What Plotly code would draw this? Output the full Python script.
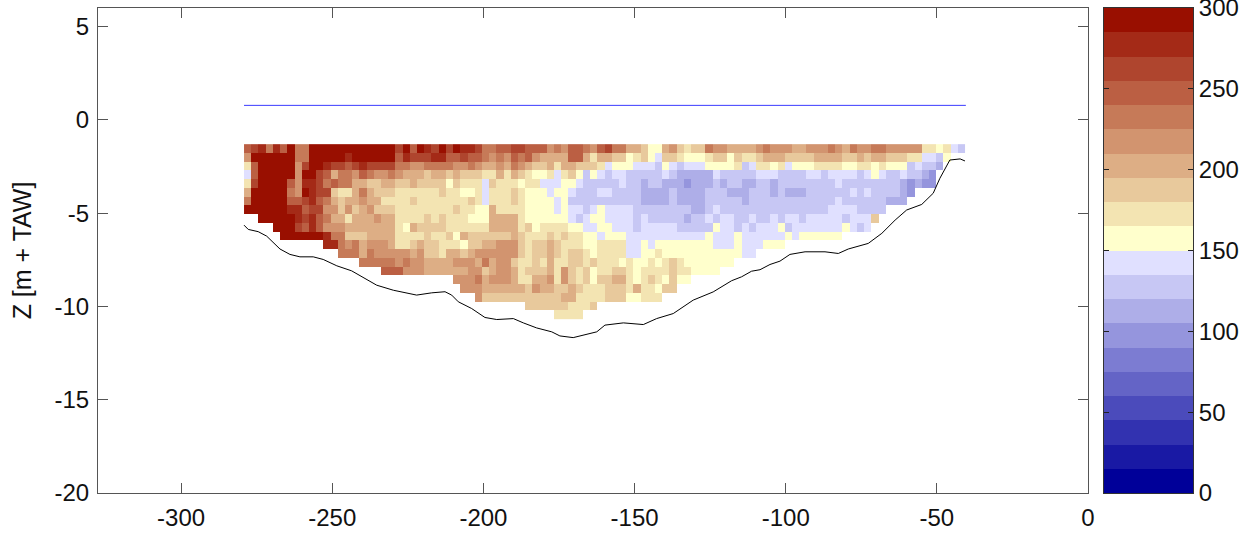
import plotly.graph_objects as go

# cell classes: 0-9 = warm bands 150..300, a-d = blue bands 150..90, '.' = no data
row_codes = [
    "6785869559" "9999999999" "9796987979" "8875566776" "6645466546" "7553320034" "2122544333" "3454443344" "4543544554" "44441101ab",
    "4999999559" "9999899999" "9687778866" "7665454656" "4333366313" "3220120a22" "1000122021" "1233322223" "3332232332" "2211aab0..",
    "1699999479" "9877678777" "7554455554" "4543343543" "2231332221" "a000aaab0a" "baaa00001b" "a1101a0001" "1110011010" "00babbc...",
    "a699999499" "7635546544" "5433323323" "2221131321" "001a120b0a" "baabbbbbab" "cccccabbbb" "baaabbbbaa" "baaaaba0ab" "babbcd....",
    "1799996488" "7565533223" "3223222202" "111a211101" "1aaa00abbb" "bbabbcbbcc" "cdcccbcbbc" "cbbcbbbbbb" "bbabbbbbbb" "bcdcdd....",
    "3999995498" "7721135322" "2111111211" "001a111210" "00a00abbba" "abbbbccccb" "ccccbbbccc" "bbbcbcccbb" "bbbbababbb" "bcd.......",
    "5999996678" "6532334331" "1112111111" "121a111210" "000a0bbbbb" "bbbbbccccb" "ccccbbbbbc" "bbbbbbbbbb" "bbabbbbbbc" "cc........",
    "9999998867" "7442423422" "2111111112" "1100311110" "000a0aaba0" "aaaabbbbbb" "bbccbabbbb" "bbbbbbbbbb" "baaaabbbb." "..........",
    "..99999878" "6533133343" "3111121211" "1000333310" "00000aba00" "aaaababbbb" "bcbbabaabb" "abbabaabaa" "aaabaaa2..",
    "....999768" "6444333333" "3103222211" "1111333312" "0111100aa0" "0aaabaaaaa" "bbbbb0aaba" "baaa0baaaa" "aaa0aba...",
    ".....99999" "9855222333" "3111121120" "3222222321" "112121100a" "000aaaaaaa" "aaaa0aaa0a" "aaaaa0a000" "000.......",
    ".........." ".885453444" "3112322111" "0223344421" "2232111001" "111aa0a000" "00000aaa0a" "aa000.....",
    ".........." "...5553544" "4443422133" "2344444421" "2232122101" "111aa00100" "000000000a" "a.........",
    ".........." "......5555" "5454433334" "4435344211" "2131122121" "1101001012" "10000000..",
    ".........." ".........6" "6644433333" "3442344312" "2231421201" "1221011112" "110000....",
    ".........." ".........." ".........4" "4453444311" "3341421202" "2331012102" "00........",
    ".........." ".........." ".........." "4443333332" "4332232111" "2221311022",
    ".........." ".........." ".........." "..42222222" "2222331111" "22200111..",
    ".........." ".........." ".........." ".........2" "222221112.",
    ".........." ".........." ".........." ".........." "...1111...",
]
band_of_code = {"0": 10, "1": 11, "2": 12, "3": 13, "4": 14, "5": 15, "6": 16, "7": 17, "8": 18, "9": 19,
                "a": 9, "b": 8, "c": 7, "d": 6}
band_colors = ["#000099", "#1919A4", "#3232B0", "#4B4BBB", "#6464C6", "#7C7CD2", "#9595DD", "#AEAEE8", "#C7C7F4", "#E0E0FF",
               "#FFFFCC", "#F3E4B2", "#E8C99C", "#DDAE85", "#D2946F", "#C67A58", "#BB5F43", "#AF452E", "#A42A17", "#990F00"]
x_start = -278.0
x_step = 2.385
z_start = -1.535
z_step = -0.47
level_x = [-279.2, -40.4]
level_z = [0.78, 0.78]
bed_x = [-279.2, -277.8, -274.5, -271.7, -267.3, -264, -260.7, -256.3, -253, -248.5, -243.6, -239.7, -235.3, -229.8,
         -222.1, -217.1, -212.7, -210.5, -208.3, -203.9, -199.5, -195.6, -190.1, -186.8, -182.4, -177.4, -174.7, -170.3,
         -162.5, -159.8, -153.7, -147.1, -142.7, -137.2, -130.6, -124, -117.9, -114.6, -111.3, -108.5, -105.2, -101.9,
         -98.6, -93.6, -87, -82.6, -79.3, -72.7, -68.2, -63.8, -60, -55, -51.2, -49, -45.7, -42.3, -40.7]
bed_z = [-5.64, -5.87, -5.99, -6.23, -6.92, -7.21, -7.34, -7.34, -7.48, -7.82, -8.09, -8.46, -8.86, -9.13,
         -9.39, -9.27, -9.21, -9.39, -9.75, -10.11, -10.59, -10.7, -10.65, -10.88, -11.15, -11.36, -11.58, -11.67,
         -11.36, -11.0, -10.88, -10.97, -10.65, -10.38, -9.66, -9.22, -8.62, -8.41, -8.11, -8.03, -7.75, -7.57,
         -7.21, -7.07, -7.07, -7.16, -6.92, -6.62, -6.08, -5.37, -4.83, -4.53, -3.93, -3.13, -2.15, -2.09, -2.2]
x_ticks = [-300, -250, -200, -150, -100, -50, 0]
x_tick_labels = ["-300", "-250", "-200", "-150", "-100", "-50", "0"]
z_ticks = [5, 0, -5, -10, -15, -20]
z_tick_labels = ["5", "0", "-5", "-10", "-15", "-20"]
bar_ticks = [0, 50, 100, 150, 200, 250, 300]

W, H = 1256, 533
n = len(band_colors)
scale = []
for i, c in enumerate(band_colors):
    scale += [[i / n, c], [(i + 1) / n, c]]

z = []
for codes in row_codes:
    codes = codes.ljust(100, ".")
    z.append([None if ch == "." else (band_of_code[ch] + 0.5) * 15 for ch in codes])

fig = go.Figure()
fig.add_trace(go.Heatmap(z=z, x0=x_start, dx=x_step, y0=z_start, dy=z_step, zmin=0, zmax=300,
                         colorscale=scale, showscale=False, hoverinfo="skip", xaxis="x", yaxis="y"))
fig.add_trace(go.Scatter(x=level_x, y=level_z, mode="lines", line=dict(color="#3A3AFF", width=1),
                         hoverinfo="skip", xaxis="x", yaxis="y", showlegend=False))
fig.add_trace(go.Scatter(x=bed_x, y=bed_z, mode="lines", line=dict(color="#000000", width=1),
                         hoverinfo="skip", xaxis="x", yaxis="y", showlegend=False))
fig.add_trace(go.Heatmap(z=[[(i + 0.5) * 15] for i in range(n)], x=[0], y=[(i + 0.5) * 15 for i in range(n)],
                         zmin=0, zmax=300, colorscale=scale, showscale=False, hoverinfo="skip",
                         xaxis="x2", yaxis="y2"))

FONT = dict(family="Liberation Sans, Arial, sans-serif", size=24, color="#111111")
TITLE_FONT = dict(family="Liberation Sans, Arial, sans-serif", size=25, color="#111111")
common = dict(showgrid=False, zeroline=False, showline=True, linecolor="#555555", linewidth=1, automargin=False,
              mirror="ticks", ticks="inside", ticklen=10, tickcolor="#555555", tickfont=FONT,
              ticklabeloverflow="allow", ticklabelstandoff=3)
# plot area in page pixels
L, R, T, B = 98, 1088, 8, 493
BL, BR = 1104, 1193
AW = BR - L
fig.update_layout(
    width=W, height=H, margin=dict(l=L, r=W - BR, t=T, b=H - B), paper_bgcolor="#ffffff", plot_bgcolor="#ffffff",
    showlegend=False, font=FONT,
    xaxis=dict(domain=[0, (R - L) / AW], range=[-327.5, 0], tickvals=x_ticks, ticktext=x_tick_labels,
               anchor="y", **common),
    yaxis=dict(domain=[0, 1], range=[-20, 6], tickvals=z_ticks, ticktext=z_tick_labels, anchor="x",
               title=dict(text="Z [m + TAW]", font=TITLE_FONT), **common),
    xaxis2=dict(domain=[(BL - L) / AW, 1], range=[-0.5, 0.5], showticklabels=False, ticks="", automargin=False,
                showgrid=False, zeroline=False, showline=True, linecolor="#333333", mirror=True, anchor="y2"),
    yaxis2=dict(domain=[0, 1], range=[0, 300], side="right", anchor="x2", tickvals=bar_ticks, automargin=False,
                showgrid=False, zeroline=False, showline=True, linecolor="#333333", mirror="ticks",
                ticks="inside", ticklen=5, tickcolor="#222222", tickfont=FONT, ticklabeloverflow="allow"),
)
fig.write_html("out.html", config={"displayModeBar": False}, post_script="document.body.style.margin='0';")
